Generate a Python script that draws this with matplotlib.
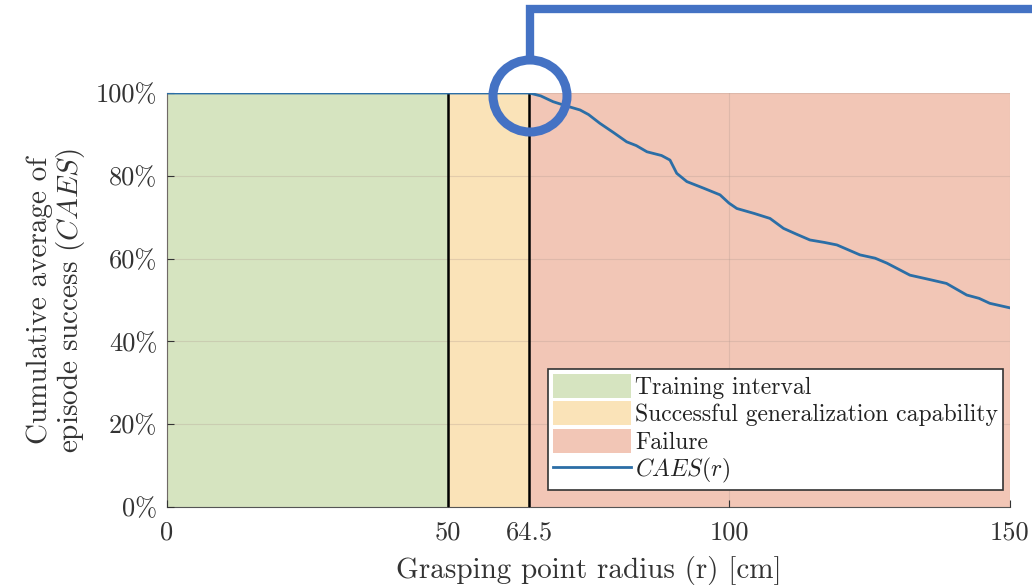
import matplotlib
matplotlib.use("Agg")
import matplotlib.pyplot as plt
from matplotlib.patches import Patch, Ellipse
from matplotlib.lines import Line2D

plt.rcParams['font.family'] = 'serif'
plt.rcParams['font.serif'] = ['cmr10']
plt.rcParams['mathtext.fontset'] = 'cm'
plt.rcParams['axes.unicode_minus'] = False

# data
radius = [0, 64.5, 66.5, 68.7, 71.0, 73.5, 75.0, 77.0, 79.5, 81.8, 83.5, 85.4,
          88.0, 89.5, 90.7, 92.5, 95.5, 98.4, 100.0, 101.4, 104.5, 107.3, 109.7,
          112.0, 114.4, 117.0, 119.2, 123.3, 126.0, 128.1, 132.2, 135.5, 138.7,
          142.3, 144.5, 146.4, 150]
caes = [100, 100, 99.3, 97.9, 96.9, 95.9, 94.8, 92.7, 90.4, 88.2, 87.3, 85.8,
        84.9, 83.8, 80.6, 78.6, 77.0, 75.4, 73.4, 72.1, 70.9, 69.7, 67.3,
        65.9, 64.5, 63.9, 63.3, 60.9, 60.1, 58.9, 56.0, 55.0, 54.0,
        51.2, 50.4, 49.2, 48.1]
train_end = 50
gen_end = 64.5
r_max = 150
x_ticks = [0, 50, 64.5, 100, 150]
x_labels = ['0', '50', '64.5', '100', '150']
y_ticks = [0, 20, 40, 60, 80, 100]
y_labels = ['0%', '20%', '40%', '60%', '80%', '100%']

c_train = '#d6e4c0'
c_gen = '#fae3b8'
c_fail = '#f2c6b6'
c_line = '#2b6ea6'
c_note = '#4472c4'

fig = plt.figure(figsize=(10.32, 5.86), dpi=100)
ax = fig.add_axes([167 / 1032, 1 - 507 / 586, 843 / 1032, 414 / 586])

ax.axvspan(0, train_end, color=c_train, lw=0, zorder=0)
ax.axvspan(train_end, gen_end, color=c_gen, lw=0, zorder=0)
ax.axvspan(gen_end, r_max, color=c_fail, lw=0, zorder=0)
ax.grid(True, color='#b09a90', alpha=0.3, lw=0.8, zorder=1)
ax.set_axisbelow(False)
ax.axvline(train_end, color='black', lw=1.8, zorder=3)
ax.axvline(gen_end, color='black', lw=1.8, zorder=3)
ax.plot(radius, caes, color=c_line, lw=2.0, zorder=4)

ax.set_xlim(0, r_max)
ax.set_ylim(0, 100)
ax.set_xticks(x_ticks)
ax.set_xticklabels(x_labels)
ax.set_yticks(y_ticks)
ax.set_yticklabels(y_labels)
ax.tick_params(direction='in', labelsize=19, colors='#333333', length=5, pad=7)
ax.tick_params(axis='x', pad=10)
for s in ['top', 'right']:
    ax.spines[s].set_visible(False)
for s in ['left', 'bottom']:
    ax.spines[s].set_color('#555555')

ax.set_xlabel('Grasping point radius (r) [cm]', fontsize=21, color='#333333', labelpad=8)
ax.set_ylabel('Cumulative average of\nepisode success ($CAES$)', fontsize=21,
              color='#333333', labelpad=6, linespacing=1.05)

handles = [Patch(facecolor=c_train, edgecolor='none'),
           Patch(facecolor=c_gen, edgecolor='none'),
           Patch(facecolor=c_fail, edgecolor='none'),
           Line2D([0], [0], color=c_line, lw=2.0)]
labels = ['Training interval', 'Successful generalization capability', 'Failure', '$CAES(r)$']
leg = ax.legend(handles, labels, loc='lower right', bbox_to_anchor=(0.9975, 0.03),
                fontsize=17, frameon=True, fancybox=False, edgecolor='#333333',
                framealpha=1, handlelength=3.3, handleheight=1.2, handletextpad=0.2,
                labelspacing=0.1, borderpad=0.2, borderaxespad=0.2)
leg.get_frame().set_linewidth(1.2)
for t in leg.get_texts():
    t.set_color('#222222')

# highlight callout
fig.add_artist(Ellipse((530 / 1032, 1 - 96 / 586), 74 / 1032, 72 / 586,
                       transform=fig.transFigure, fill=False, ec=c_note, lw=6.5))
fig.add_artist(Line2D([530 / 1032, 530 / 1032, 1.0], [1 - 60 / 586, 1 - 9 / 586, 1 - 9 / 586],
                      transform=fig.transFigure, color=c_note, lw=6,
                      solid_joinstyle='miter', solid_capstyle='butt'))

fig.savefig('out.png', dpi=100)
